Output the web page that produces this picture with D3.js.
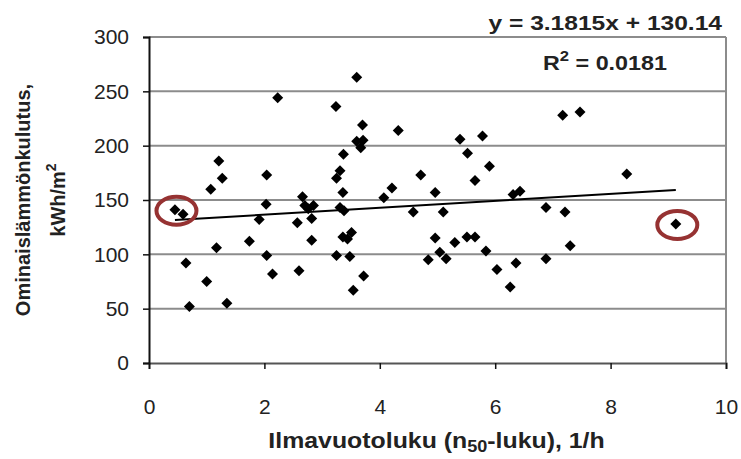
<!DOCTYPE html>
<html><head><meta charset="utf-8">
<script src="https://cdn.jsdelivr.net/npm/d3@7"></script>
<style>body{margin:0;background:#fff}svg{display:block}text{font-family:"Liberation Sans",Arial,sans-serif}</style>
</head><body><svg id="c" width="741" height="459"></svg>
<script>
const xVals = [0.45,0.59,0.64,0.70,1.00,1.07,1.17,1.21,1.27,1.35,1.74,1.91,2.03,2.04,2.04,2.14,2.23,2.57,2.60,2.66,2.70,2.76,2.85,2.82,2.82,3.24,3.25,3.25,3.31,3.37,3.36,3.31,3.38,3.36,3.44,3.51,3.48,3.54,3.60,3.70,3.60,3.71,3.67,3.72,4.07,4.21,4.32,4.58,4.71,4.84,4.96,4.96,5.04,5.10,5.15,5.30,5.39,5.51,5.52,5.65,5.65,5.78,5.84,5.90,6.03,6.26,6.31,6.36,6.43,6.88,6.88,7.17,7.21,7.30,7.47,8.28,9.13];
const yVals = [141,137,92,52,75,160,106,186,170,55,112,132,146,173,99,82,244,129,85,153,145,142,145,133,113,236,99,170,177,192,157,143,140,116,114,120,98,67,263,219,204,205,198,80,152,161,214,139,173,95,157,115,102,139,96,111,206,116,193,168,116,209,103,181,86,70,155,92,158,143,96,228,139,108,231,174,128];
const highlighted = [0, 76]; // circled points (indices)
const xTicks = [0,2,4,6,8,10];
const yTicks = [0,50,100,150,200,250,300];
const slope = 3.1815, intercept = 130.14;
const eqLabel = "y = 3.1815x + 130.14";
const r2Value = "0.0181";
const xTitle = ["Ilmavuotoluku (n", "50", "-luku), 1/h"];
const yTitle = ["Ominaislämmönkulutus,", "kWh/m"];

const svg = d3.select("#c");
const x = d3.scaleLinear().domain([0,10]).range([149,726]);
const y = d3.scaleLinear().domain([0,300]).range([363,37]);

// gridlines
svg.append("g").selectAll("line").data(yTicks.filter(d=>d>0)).join("line")
  .attr("x1",x(0)).attr("x2",x(10)).attr("y1",d=>y(d)).attr("y2",d=>y(d))
  .attr("stroke","#8c8c8c").attr("stroke-width",2);
// right border
svg.append("line").attr("x1",x(10)).attr("x2",x(10)).attr("y1",y(300)).attr("y2",y(0))
  .attr("stroke","#8c8c8c").attr("stroke-width",2);

// axes
const xAxis = svg.append("g").attr("transform",`translate(0,${y(0)})`)
  .call(d3.axisBottom(x).tickValues(xTicks).tickSize(6).tickPadding(30).tickFormat(d3.format("d")));
const yAxis = svg.append("g").attr("transform",`translate(${x(0)},0)`)
  .call(d3.axisLeft(y).tickValues(yTicks).tickSize(6).tickPadding(14).tickFormat(d3.format("d")));
[xAxis,yAxis].forEach(a=>{
  a.select(".domain").attr("stroke","#111").attr("stroke-width",2);
  a.selectAll(".tick line").attr("stroke","#111").attr("stroke-width",1.5);
  a.selectAll(".tick text").attr("fill","#222").style("font-size","21px").style("font-family","Liberation Sans, Arial, sans-serif");
});
xAxis.select(".domain").attr("stroke","#555");

// trend line
const xs = d3.extent(xVals);
svg.append("line").attr("x1",x(xs[0])).attr("x2",x(xs[1]))
  .attr("y1",y(slope*xs[0]+intercept)).attr("y2",y(slope*xs[1]+intercept))
  .attr("stroke","#000").attr("stroke-width",2);

// points
const diamond = "M0,-5.5L5.5,0L0,5.5L-5.5,0Z";
svg.append("g").selectAll("path").data(xVals.map((v,i)=>[v,yVals[i]])).join("path")
  .attr("d",diamond).attr("transform",d=>`translate(${x(d[0])},${y(d[1])})`).attr("fill","#000");

// highlight ellipses
svg.append("g").selectAll("ellipse").data(highlighted).join("ellipse")
  .attr("cx",i=>x(xVals[i])+1.5).attr("cy",i=>y(yVals[i])+1)
  .attr("rx",20).attr("ry",14).attr("fill","none").attr("stroke","#963232").attr("stroke-width",4);

// equation
svg.append("text").attr("transform","translate(722,30) scale(1.17,1)").attr("text-anchor","end")
  .attr("font-weight","bold").attr("font-size",21).attr("fill","#222").text(eqLabel);
const r2 = svg.append("text").attr("transform","translate(543,70) scale(1.11,1)")
  .attr("font-weight","bold").attr("font-size",21).attr("fill","#222");
r2.append("tspan").text("R");
r2.append("tspan").attr("dy",-9).attr("font-size",15).text("2");
r2.append("tspan").attr("dy",9).text(" = " + r2Value);

// x title
const xt = svg.append("text").attr("transform",`translate(${(x(0)+x(10))/2 - 1},448) scale(1.13,1)`).attr("text-anchor","middle")
  .attr("font-weight","bold").attr("font-size",22).attr("fill","#222");
xt.append("tspan").text(xTitle[0]);
xt.append("tspan").attr("dy",4).attr("font-size",16).text(xTitle[1]);
xt.append("tspan").attr("dy",-4).text(xTitle[2]);

// y title
const yt = svg.append("g").attr("transform","translate(30,200) rotate(-90)");
yt.append("text").attr("text-anchor","middle").attr("y",0)
  .attr("font-weight","bold").attr("font-size",20).attr("fill","#222").text(yTitle[0]);
const yt2 = yt.append("text").attr("text-anchor","middle").attr("y",35)
  .attr("font-weight","bold").attr("font-size",20).attr("fill","#222");
yt2.append("tspan").text(yTitle[1]);
yt2.append("tspan").attr("dy",-9).attr("font-size",14).text("2");
</script></body></html>
